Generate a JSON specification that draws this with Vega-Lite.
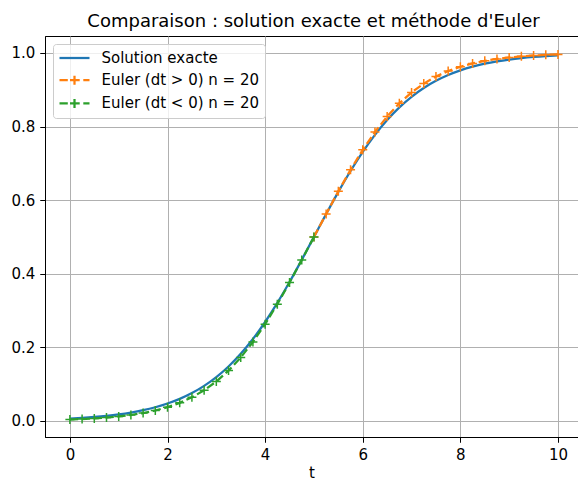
{
  "$schema": "https://vega.github.io/schema/vega-lite/v6.json",
  "width": 533,
  "height": 401,
  "autosize": {"type": "none"},
  "padding": {"left": 45, "top": 36, "right": 0, "bottom": 42},
  "title": {"text": "Comparaison : solution exacte et méthode d'Euler", "fontSize": 18, "fontWeight": "normal", "color": "black", "offset": 5, "dx": 2},
  "datasets": {
    "exact": [
      {"t": 0, "y": 0.006693}, {"t": 0.25, "y": 0.008577}, {"t": 0.5, "y": 0.010987}, {"t": 0.75, "y": 0.014064},
      {"t": 1, "y": 0.017986}, {"t": 1.25, "y": 0.022977}, {"t": 1.5, "y": 0.029312}, {"t": 1.75, "y": 0.037327},
      {"t": 2, "y": 0.047426}, {"t": 2.25, "y": 0.060087}, {"t": 2.5, "y": 0.075858}, {"t": 2.75, "y": 0.095349},
      {"t": 3, "y": 0.119203}, {"t": 3.25, "y": 0.148047}, {"t": 3.5, "y": 0.182426}, {"t": 3.75, "y": 0.2227},
      {"t": 4, "y": 0.268941}, {"t": 4.25, "y": 0.320821}, {"t": 4.5, "y": 0.377541}, {"t": 4.75, "y": 0.437823},
      {"t": 5, "y": 0.5}, {"t": 5.25, "y": 0.562177}, {"t": 5.5, "y": 0.622459}, {"t": 5.75, "y": 0.679179},
      {"t": 6, "y": 0.731059}, {"t": 6.25, "y": 0.7773}, {"t": 6.5, "y": 0.817574}, {"t": 6.75, "y": 0.851953},
      {"t": 7, "y": 0.880797}, {"t": 7.25, "y": 0.904651}, {"t": 7.5, "y": 0.924142}, {"t": 7.75, "y": 0.939913},
      {"t": 8, "y": 0.952574}, {"t": 8.25, "y": 0.962673}, {"t": 8.5, "y": 0.970688}, {"t": 8.75, "y": 0.977023},
      {"t": 9, "y": 0.982014}, {"t": 9.25, "y": 0.985936}, {"t": 9.5, "y": 0.989013}, {"t": 9.75, "y": 0.991423},
      {"t": 10, "y": 0.993307}
    ],
    "fwd": [
      {"t": 5, "y": 0.5}, {"t": 5.25, "y": 0.5625}, {"t": 5.5, "y": 0.624023}, {"t": 5.75, "y": 0.682677},
      {"t": 6, "y": 0.736834}, {"t": 6.25, "y": 0.785312}, {"t": 6.5, "y": 0.827461}, {"t": 6.75, "y": 0.863153},
      {"t": 7, "y": 0.892683}, {"t": 7.25, "y": 0.916633}, {"t": 7.5, "y": 0.935737}, {"t": 7.75, "y": 0.95077},
      {"t": 8, "y": 0.962472}, {"t": 8.25, "y": 0.971502}, {"t": 8.5, "y": 0.978423}, {"t": 8.75, "y": 0.983701},
      {"t": 9, "y": 0.987709}, {"t": 9.25, "y": 0.990744}, {"t": 9.5, "y": 0.993037}, {"t": 9.75, "y": 0.994766},
      {"t": 10, "y": 0.996068}
    ],
    "bwd": [
      {"t": 5, "y": 0.5}, {"t": 4.75, "y": 0.4375}, {"t": 4.5, "y": 0.375977}, {"t": 4.25, "y": 0.317323},
      {"t": 4, "y": 0.263166}, {"t": 3.75, "y": 0.214688}, {"t": 3.5, "y": 0.172539}, {"t": 3.25, "y": 0.136847},
      {"t": 3, "y": 0.107317}, {"t": 2.75, "y": 0.083367}, {"t": 2.5, "y": 0.064263}, {"t": 2.25, "y": 0.04923},
      {"t": 2, "y": 0.037528}, {"t": 1.75, "y": 0.028498}, {"t": 1.5, "y": 0.021577}, {"t": 1.25, "y": 0.016299},
      {"t": 1, "y": 0.012291}, {"t": 0.75, "y": 0.009256}, {"t": 0.5, "y": 0.006963}, {"t": 0.25, "y": 0.005234},
      {"t": 0, "y": 0.003932}
    ]
  },
  "encoding": {
    "x": {"field": "t", "type": "quantitative", "title": "t",
      "scale": {"domain": [-0.51, 10.41], "nice": false, "zero": false},
      "axis": {"values": [0, 2, 4, 6, 8, 10], "format": "d", "titlePadding": 3}},
    "y": {"field": "y", "type": "quantitative", "title": null,
      "scale": {"domain": [-0.0435, 1.046], "nice": false, "zero": false},
      "axis": {"values": [0, 0.2, 0.4, 0.6, 0.8, 1.0], "format": ".1f"}}
  },
  "layer": [
    {
      "data": {"name": "exact"},
      "transform": [{"calculate": "'Solution exacte'", "as": "serie"}],
      "mark": {"type": "line", "strokeWidth": 2.25, "interpolate": "monotone"},
      "encoding": {
        "color": {"field": "serie", "type": "nominal",
          "scale": {"domain": ["Solution exacte", "Euler (dt > 0) n = 20", "Euler (dt < 0) n = 20"], "range": ["#1f77b4", "#ff7f0e", "#2ca02c"]},
          "legend": {
            "orient": "top-left", "offset": 8, "title": null,
            "fillColor": "rgba(255,255,255,0.8)", "strokeColor": "#cccccc", "cornerRadius": 3,
            "padding": 5, "labelFontSize": 15, "labelColor": "black", "labelFont": "DejaVu Sans",
            "symbolSize": 225, "symbolStrokeWidth": 2.25, "symbolType": "stroke", "rowPadding": 5.2,
            "symbolOffset": 7.5, "labelOffset": 18,
            "encode": {"symbols": {"update": {
              "shape": {"signal": "datum.value === 'Solution exacte' ? 'M-2,0H2' : 'M-2,0H-0.894M-0.414,0H0.694M1.174,0H2M0,-0.6V0.6M-0.6,0H0.6'"},
              "fill": {"value": "transparent"}
            }}}
          }}
      }
    },
    {
      "data": {"name": "fwd"},
      "transform": [{"calculate": "'Euler (dt > 0) n = 20'", "as": "serie"}],
      "mark": {"type": "line", "strokeWidth": 2.25, "strokeDash": [8.3, 3.6]},
      "encoding": {"color": {"field": "serie", "type": "nominal"}}
    },
    {
      "data": {"name": "fwd"},
      "transform": [{"calculate": "'Euler (dt > 0) n = 20'", "as": "serie"}],
      "mark": {"type": "point", "shape": "M-1,0H1M0,-1V1", "size": 81, "filled": false, "strokeWidth": 1.5, "opacity": 1},
      "encoding": {"color": {"field": "serie", "type": "nominal"}}
    },
    {
      "data": {"name": "bwd"},
      "transform": [{"calculate": "'Euler (dt < 0) n = 20'", "as": "serie"}],
      "mark": {"type": "line", "strokeWidth": 2.25, "strokeDash": [8.3, 3.6]},
      "encoding": {"color": {"field": "serie", "type": "nominal"}}
    },
    {
      "data": {"name": "bwd"},
      "transform": [{"calculate": "'Euler (dt < 0) n = 20'", "as": "serie"}],
      "mark": {"type": "point", "shape": "M-1,0H1M0,-1V1", "size": 81, "filled": false, "strokeWidth": 1.5, "opacity": 1},
      "encoding": {"color": {"field": "serie", "type": "nominal"}}
    }
  ],
  "config": {
    "font": "DejaVu Sans",
    "view": {"stroke": "black", "strokeWidth": 1},
    "axis": {
      "labelFontSize": 15, "labelColor": "black", "labelFont": "DejaVu Sans",
      "titleFontSize": 15, "titleColor": "black", "titleFontWeight": "normal", "titleFont": "DejaVu Sans",
      "domainColor": "black", "domainWidth": 1,
      "tickColor": "black", "tickSize": 5.25, "tickWidth": 1, "labelPadding": 5,
      "grid": true, "gridColor": "#b0b0b0", "gridWidth": 1
    }
  }
}
